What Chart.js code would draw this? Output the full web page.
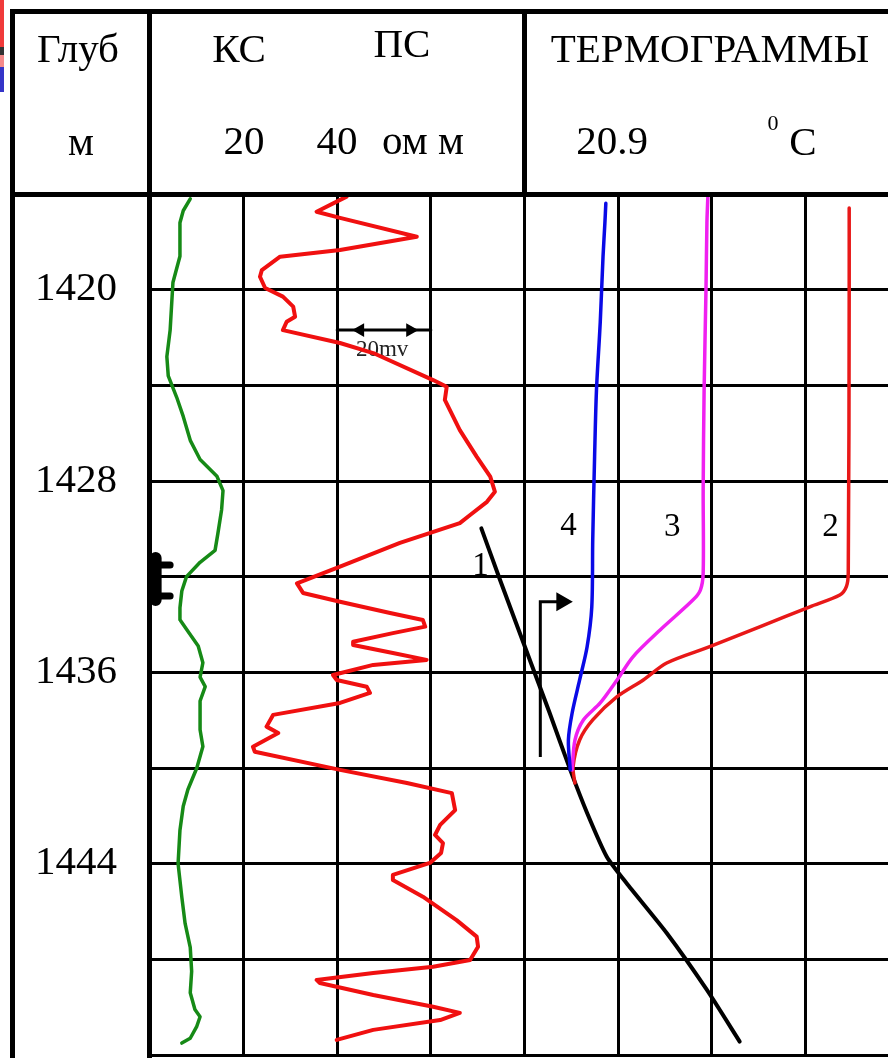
<!DOCTYPE html>
<html>
<head>
<meta charset="utf-8">
<title>Термограммы</title>
<script src="https://cdn.jsdelivr.net/npm/chart.js@4.4.1/dist/chart.umd.min.js"></script>
<style>
  html, body { margin: 0; padding: 0; background: #fff; }
  #page { position: relative; width: 888px; height: 1058px; overflow: hidden; background: #fff;
          font-family: 'Liberation Serif', 'Times New Roman', serif; color: #000; }
  #log { position: absolute; left: 0; top: 0; }
  .rule { position: absolute; background: #000; }
  .hdr { position: absolute; font-size: 41px; line-height: 41px; white-space: nowrap; transform: translateX(-50%); }
  .sup { position: absolute; font-size: 22px; line-height: 22px; transform: translateX(-50%); }
</style>
</head>
<body>
<div id="page">
  <canvas id="log" width="888" height="1058"></canvas>

  <!-- slide edge remnants -->
  <div class="rule" style="left:0;top:0;width:4px;height:47px;background:#f03a3a"></div>
  <div class="rule" style="left:0;top:47px;width:4px;height:8px;background:#333"></div>
  <div class="rule" style="left:0;top:55px;width:4px;height:12px;background:#f58a8a"></div>
  <div class="rule" style="left:0;top:67px;width:4px;height:25px;background:#3535c8"></div>

  <!-- table frame -->
  <div class="rule" style="left:10px;top:9px;width:878px;height:5px"></div>
  <div class="rule" style="left:10px;top:9px;width:5px;height:1049px"></div>
  <div class="rule" style="left:147px;top:9px;width:5px;height:1049px"></div>
  <div class="rule" style="left:522px;top:9px;width:5px;height:185px"></div>
  <div class="rule" style="left:10px;top:192px;width:878px;height:5px"></div>

  <!-- header text -->
  <div class="hdr" style="left:78px;top:28px">Глуб</div>
  <div class="hdr" style="left:81px;top:121px">м</div>
  <div class="hdr" style="left:239px;top:28px">КС</div>
  <div class="hdr" style="left:402px;top:23px">ПС</div>
  <div class="hdr" style="left:244px;top:120px">20</div>
  <div class="hdr" style="left:337px;top:120px">40</div>
  <div class="hdr" style="left:423px;top:120px">ом м</div>
  <div class="hdr" style="left:710px;top:28px">ТЕРМОГРАММЫ</div>
  <div class="hdr" style="left:612px;top:120px">20.9</div>
  <div class="sup" style="left:773px;top:112px">0</div>
  <div class="hdr" style="left:803px;top:121px">C</div>
</div>

<script>
// Well log: КС / ПС curves and thermograms against depth

// Depth axis (m)
var DEPTH_MIN = 1416;
var DEPTH_MAX = 1452;
var DEPTH_GRID = [1416, 1420, 1424, 1428, 1432, 1436, 1440, 1444, 1448, 1452];
var DEPTH_LABELS = [1420, 1428, 1436, 1444];

// Vertical grid, one line per 20 ohm-m of КС
var KS_GRID = [0, 20, 40, 60, 80, 100, 120, 140];

// КС, apparent resistivity (ohm-m)
var KS_DEPTH = [1416.2, 1416.7, 1417.2, 1418.6, 1419.7, 1420.7, 1421.7, 1422.8, 1423.6, 1424.5,
                1425.3, 1426.3, 1427.1, 1427.8, 1428.4, 1429.2, 1430.2, 1430.9, 1431.4, 1432.0,
                1432.6, 1433.3, 1433.8, 1434.2, 1434.9, 1435.6, 1436.2, 1436.6, 1437.2, 1438.4,
                1439.1, 1440.0, 1440.9, 1441.6, 1442.6, 1444.0, 1445.4, 1446.5, 1447.5, 1448.5,
                1449.4, 1450.1, 1450.4, 1450.8, 1451.3, 1451.5];
var KS_OHMM  = [8.6, 7.1, 6.4, 6.4, 4.9, 4.6, 4.3, 3.6, 3.9, 5.7,
                7.1, 8.6, 10.7, 14.3, 15.6, 15.3, 14.5, 13.9, 10.7, 7.8,
                6.8, 6.4, 6.4, 7.8, 10.3, 11.3, 10.7, 11.8, 10.7, 10.7,
                11.3, 10.0, 8.1, 7.1, 6.4, 6.0, 6.8, 7.5, 8.6, 8.9,
                8.6, 9.6, 10.7, 10.0, 8.6, 6.8];

// ПС, spontaneous potential (mV, 20 mV per grid cell)
var PS_DEPTH = [1416.11, 1416.74, 1417.00, 1417.79, 1418.34, 1418.62, 1419.18, 1419.46, 1419.93, 1420.29,
                1420.71, 1421.13, 1421.34, 1421.69, 1422.23, 1422.65, 1423.78, 1424.06, 1424.61, 1425.87,
                1426.98, 1427.82, 1428.45, 1428.87, 1429.42, 1429.76, 1430.59, 1431.58, 1432.28, 1432.68,
                1433.05, 1433.52, 1433.81, 1434.09, 1434.36, 1434.72, 1434.86, 1435.19, 1435.48, 1435.69,
                1436.11, 1436.32, 1436.60, 1436.86, 1437.28, 1437.78, 1438.27, 1438.54, 1439.11, 1439.32,
                1440.08, 1440.63, 1441.05, 1441.76, 1442.38, 1442.80, 1443.14, 1443.55, 1443.97, 1444.47,
                1444.68, 1445.38, 1446.36, 1447.05, 1447.47, 1448.03, 1448.31, 1448.57, 1448.86, 1448.99,
                1449.49, 1449.98, 1450.24, 1450.54, 1450.95, 1451.37];
var PS_MV    = [42.0, 35.6, 40.6, 57.0, 40.6, 27.8, 23.9, 23.5, 24.6, 28.4,
                30.6, 31.0, 29.2, 28.4, 40.6, 47.7, 60.5, 63.4, 63.0, 66.2,
                69.8, 72.7, 73.7, 72.0, 68.4, 66.2, 53.4, 40.6, 31.4, 32.7,
                40.6, 51.3, 58.3, 58.8, 51.9, 43.4, 43.4, 51.9, 59.1, 47.7,
                39.1, 39.9, 46.3, 47.0, 40.6, 26.3, 24.9, 27.4, 22.0, 22.4,
                40.6, 54.9, 64.5, 65.2, 62.0, 60.9, 62.6, 62.2, 59.8, 51.9,
                51.9, 58.3, 65.5, 69.8, 70.1, 68.4, 60.5, 47.7, 35.6, 36.3,
                47.7, 60.5, 66.2, 62.0, 47.7, 39.9];

// Thermograms (°C), 0.1 °C per grid cell
var T4_DEPTH = [1416.39, 1417.21, 1418.62, 1421.39, 1424.20, 1426.98, 1430.47, 1433.26, 1434.93, 1436.32, 1437.70, 1438.83, 1440.08];
var T4_C     = [20.887, 20.886, 20.884, 20.881, 20.877, 20.875, 20.873, 20.872, 20.867, 20.859, 20.851, 20.847, 20.849];

var T3_DEPTH = [1416.11, 1417.21, 1420.01, 1424.20, 1428.38, 1431.85, 1432.56, 1432.98, 1434.23, 1435.35, 1436.32, 1437.28, 1437.99, 1438.83, 1440.08];
var T3_C     = [20.996, 20.995, 20.994, 20.992, 20.991, 20.991, 20.988, 20.980, 20.945, 20.916, 20.899, 20.881, 20.863, 20.854, 20.851];

var T2_DEPTH = [1416.59, 1420.01, 1431.85, 1432.42, 1432.77, 1433.26, 1434.09, 1434.93, 1435.61, 1436.32, 1437.02, 1437.99, 1438.83, 1439.95, 1440.63];
var T2_C     = [21.147, 21.147, 21.146, 21.144, 21.137, 21.105, 21.052, 20.998, 20.952, 20.927, 20.899, 20.873, 20.859, 20.852, 20.854];

// Curve 1: background geotherm
var T1_DEPTH = [1429.98, 1432.14, 1435.61, 1437.70, 1440.08, 1441.88, 1443.71, 1444.81, 1446.90, 1449.28, 1451.44];
var T1_C     = [20.754, 20.774, 20.807, 20.827, 20.849, 20.867, 20.888, 20.909, 20.952, 20.995, 21.030];

// Perforation interval mark (drawn against КС scale)
var PERF_KS    = [4.3, 1.0, 1.0, 4.3];
var PERF_DEPTH = [1431.51, 1431.51, 1432.81, 1432.81];
var STEM_KS    = [1.2, 1.2];
var STEM_DEPTH = [1431.22, 1432.98];

// Flow arrow near the thermograms
var ARROW_T     = [20.817, 20.817, 20.840];
var ARROW_DEPTH = [1439.54, 1433.05, 1433.05];

// 20 mV scale bar
var SCALE_MV    = [40, 44.9, 55.6, 60];
var SCALE_DEPTH = [1421.69, 1421.69, 1421.69, 1421.69];
var SCALE_TEXT  = '20mv';
var SCALE_TEXT_MV = 49.6;
var SCALE_TEXT_DEPTH = 1422.52;

// Curve numbers
var NUMBER_TEXT  = ['1', '2', '3', '4'];
var NUMBER_T     = [20.753, 21.127, 20.958, 20.847];
var NUMBER_DEPTH = [1431.55, 1429.94, 1429.94, 1429.88];

// Plot panel is 738 px wide, 93.6 px per grid cell
var CELLS = 738 / 93.6;
var KS_MAX = CELLS * 20;
var PS_MAX = CELLS * 20;
var T_MIN = 20.4;
var T_MAX = T_MIN + CELLS * 0.1;

var SERIF = "'Liberation Serif', 'Times New Roman', serif";

function toPoints(xs, ys) {
  return xs.map(function(v, i) { return { x: v, y: ys[i] }; });
}

function curve(label, xs, depths, axis, color, width, tension) {
  return {
    label: label,
    data: toPoints(xs, depths),
    xAxisID: axis,
    yAxisID: 'y',
    showLine: true,
    borderColor: color,
    backgroundColor: color,
    borderWidth: width,
    pointRadius: 0,
    tension: tension || 0,
    borderJoinStyle: 'round',
    borderCapStyle: 'round'
  };
}

// Text placed in data coordinates
var logTextPlugin = {
  id: 'logText',
  beforeDatasetsDraw: function(chart) {
    var ctx = chart.ctx;
    ctx.save();
    ctx.font = '23px ' + SERIF;
    ctx.fillStyle = '#222';
    ctx.textAlign = 'center';
    ctx.textBaseline = 'middle';
    ctx.fillText(SCALE_TEXT,
      chart.scales.xPS.getPixelForValue(SCALE_TEXT_MV),
      chart.scales.y.getPixelForValue(SCALE_TEXT_DEPTH));
    ctx.restore();
  },
  afterDatasetsDraw: function(chart) {
    var ctx = chart.ctx;
    ctx.save();
    ctx.font = '33px ' + SERIF;
    ctx.fillStyle = '#000';
    ctx.textAlign = 'center';
    ctx.textBaseline = 'middle';
    NUMBER_TEXT.forEach(function(txt, i) {
      ctx.fillText(txt,
        chart.scales.xT.getPixelForValue(NUMBER_T[i]),
        chart.scales.y.getPixelForValue(NUMBER_DEPTH[i]));
    });
    ctx.restore();
  }
};

var datasets = [
  curve('КС', KS_OHMM, KS_DEPTH, 'xKS', '#168a16', 3.5),
  curve('ПС', PS_MV, PS_DEPTH, 'xPS', '#f01010', 4),
  curve('4', T4_C, T4_DEPTH, 'xT', '#0a0ae6', 3.5, 0.3),
  curve('3', T3_C, T3_DEPTH, 'xT', '#f020f0', 3.5, 0.3),
  curve('2', T2_C, T2_DEPTH, 'xT', '#e81818', 3.5, 0.3),
  curve('1', T1_C, T1_DEPTH, 'xT', '#000000', 4, 0.2),
  curve('perf stem', STEM_KS, STEM_DEPTH, 'xKS', '#000000', 12),
  curve('perf', PERF_KS, PERF_DEPTH, 'xKS', '#000000', 7),
];

var arrow = curve('arrow', ARROW_T, ARROW_DEPTH, 'xT', '#000000', 3);
arrow.borderJoinStyle = 'miter';
arrow.borderCapStyle = 'butt';
arrow.pointStyle = 'triangle';
arrow.pointRadius = [0, 0, 8];
arrow.rotation = 90;
datasets.push(arrow);

var bar = curve('20mv', SCALE_MV, SCALE_DEPTH, 'xPS', '#000000', 3);
bar.pointStyle = 'triangle';
bar.pointRadius = [0, 5, 5, 0];
bar.rotation = [0, 270, 90, 0];
datasets.push(bar);

new Chart(document.getElementById('log'), {
  type: 'scatter',
  data: { datasets: datasets },
  plugins: [logTextPlugin],
  options: {
    responsive: false,
    animation: false,
    devicePixelRatio: 1,
    layout: { autoPadding: false, padding: { left: 15, top: 194, right: 0, bottom: 3 } },
    plugins: { legend: { display: false }, tooltip: { enabled: false } },
    events: [],
    scales: {
      y: {
        type: 'linear',
        position: 'left',
        reverse: true,
        min: DEPTH_MIN,
        max: DEPTH_MAX,
        afterBuildTicks: function(s) { s.ticks = DEPTH_GRID.map(function(v) { return { value: v }; }); },
        afterFit: function(s) { s.width = 135; s.paddingTop = 0; s.paddingBottom = 0; },
        grid: { color: '#000', lineWidth: 3, drawTicks: false },
        border: { display: false },
        ticks: {
          padding: 33,
          color: '#000',
          font: { family: SERIF, size: 41 },
          callback: function(v) { return DEPTH_LABELS.indexOf(v) >= 0 ? String(v) : ''; }
        }
      },
      xKS: {
        type: 'linear',
        position: 'bottom',
        min: 0,
        max: KS_MAX,
        afterBuildTicks: function(s) { s.ticks = KS_GRID.map(function(v) { return { value: v }; }); },
        afterFit: function(s) { s.height = 0; s.paddingLeft = 0; s.paddingRight = 0; },
        grid: { color: '#000', lineWidth: 3, drawTicks: false },
        border: { display: false },
        ticks: { display: false }
      },
      xPS: { type: 'linear', display: false, min: 0, max: PS_MAX },
      xT:  { type: 'linear', display: false, min: T_MIN, max: T_MAX }
    }
  }
});
</script>
</body>
</html>
